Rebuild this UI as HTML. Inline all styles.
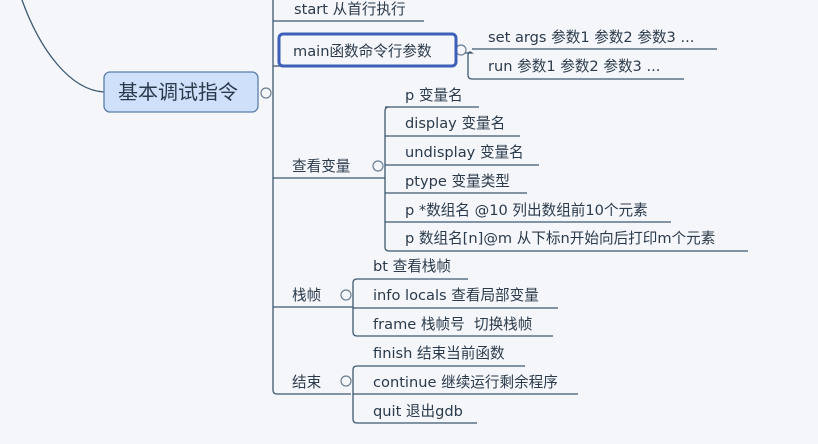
<!DOCTYPE html>
<html><head><meta charset="utf-8"><style>
body{margin:0;background:#f4f6fa;}
svg{display:block}
text{font-family:"DejaVu Sans","Noto Sans CJK SC",sans-serif;font-size:14.6px;fill:#2b3a4a}
</style></head><body>
<svg width="818" height="444" viewBox="0 0 818 444">
<rect width="818" height="444" fill="#f4f6fa"/>
<g fill="none" stroke="#3e5a70" stroke-width="1.3">
<path d="M22 0 C40 50 70 90 104 92"/>
<path d="M273 0 V390 Q273 394 277 394 H351"/>
<path d="M273 21 H424"/>
<path d="M273 66 H280"/>
<path d="M273 178 H385"/>
<path d="M273 307 H353"/>
<path d="M456 53 H472 Q468 50 468 56 V75 Q468 79 472 79 H684"/>
<path d="M472 49 H717"/>
<path d="M389 107 Q385 107 385 111 V247 Q385 251 389 251 H748"/>
<path d="M385 107 H479"/>
<path d="M385 136 H520"/>
<path d="M385 165 H539"/>
<path d="M385 193 H527"/>
<path d="M385 222 H671"/>
<path d="M357 279 Q353 279 353 283 V332 Q353 336 357 336 H553"/>
<path d="M357 279 H468"/>
<path d="M353 308 H558"/>
<path d="M357 366 Q353 366 353 370 V419 Q353 423 357 423 H477"/>
<path d="M357 366 H525"/>
<path d="M353 394 H578"/>
</g>
<rect x="104" y="72" width="154" height="40" rx="6" fill="#cfe0fb" stroke="#5c7ea8" stroke-width="1.3"/>
<text x="118" y="99" style="font-size:20px">基本调试指令</text>
<g fill="#f4f6fa" stroke="#6b7f90" stroke-width="1.2">
<circle cx="266" cy="93" r="5"/>
<circle cx="461" cy="50" r="5"/>
<circle cx="378" cy="166" r="5"/>
<circle cx="346" cy="295" r="5"/>
<circle cx="346" cy="381" r="5"/>
</g>
<rect x="279" y="34" width="177" height="32" rx="4" fill="#f4f6fa" stroke="#3d5fb8" stroke-width="3"/>
<text x="294" y="14">start 从首行执行</text>
<text x="293" y="56">main函数命令行参数</text>
<text x="488" y="42">set args 参数1 参数2 参数3 ...</text>
<text x="488" y="71">run 参数1 参数2 参数3 ...</text>
<text x="292" y="171">查看变量</text>
<text x="405" y="100">p 变量名</text>
<text x="405" y="128">display 变量名</text>
<text x="405" y="157">undisplay 变量名</text>
<text x="405" y="186">ptype 变量类型</text>
<text x="405" y="215">p *数组名 @10 列出数组前10个元素</text>
<text x="405" y="243">p 数组名[n]@m 从下标n开始向后打印m个元素</text>
<text x="292" y="300">栈帧</text>
<text x="373" y="271">bt 查看栈帧</text>
<text x="373" y="300">info locals 查看局部变量</text>
<text x="373" y="329">frame 栈帧号 &#160;切换栈帧</text>
<text x="292" y="387">结束</text>
<text x="373" y="358">finish 结束当前函数</text>
<text x="373" y="387">continue 继续运行剩余程序</text>
<text x="373" y="416">quit 退出gdb</text>
</svg>
</body></html>
